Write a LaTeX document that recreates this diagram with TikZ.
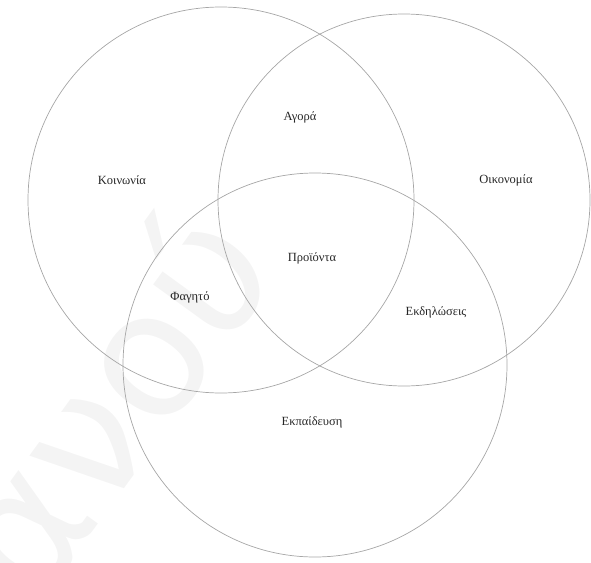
\documentclass[tikz,border=0pt]{standalone}
\usepackage{fontspec}
\setmainfont{Liberation Serif}
\newfontfamily\markfont{DejaVu Sans}
\begin{document}
\begin{tikzpicture}[x=1pt,y=-1pt]
        \useasboundingbox (0,0) rectangle (591,562);
        \node[rotate=54, text=gray!9, font=\markfont\fontsize{175}{175}\selectfont] (mark) at (104,400) {ανού};
        \draw[gray!70, line width=0.7pt] (221,200) circle (193pt);
        \draw[gray!70, line width=0.7pt] (404,200) circle (186pt);
        \draw[gray!70, line width=0.7pt] (315,365) circle (192pt);
        \begin{scope}[font=\fontsize{12.5}{14}\selectfont, text=black!85]
        \node (koin) at (122,180) {Κοινωνία};
        \node (agor) at (300,117) {Αγορά};
        \node (oiko) at (506,180) {Οικονομία};
        \node (proi) at (312,258) {Προϊόντα};
        \node (fag) at (190,297) {Φαγητό};
        \node (ekdi) at (436,312) {Εκδηλώσεις};
        \node (ekpa) at (312,422) {Εκπαίδευση};
        \end{scope}
    \end{tikzpicture}
\end{document}
